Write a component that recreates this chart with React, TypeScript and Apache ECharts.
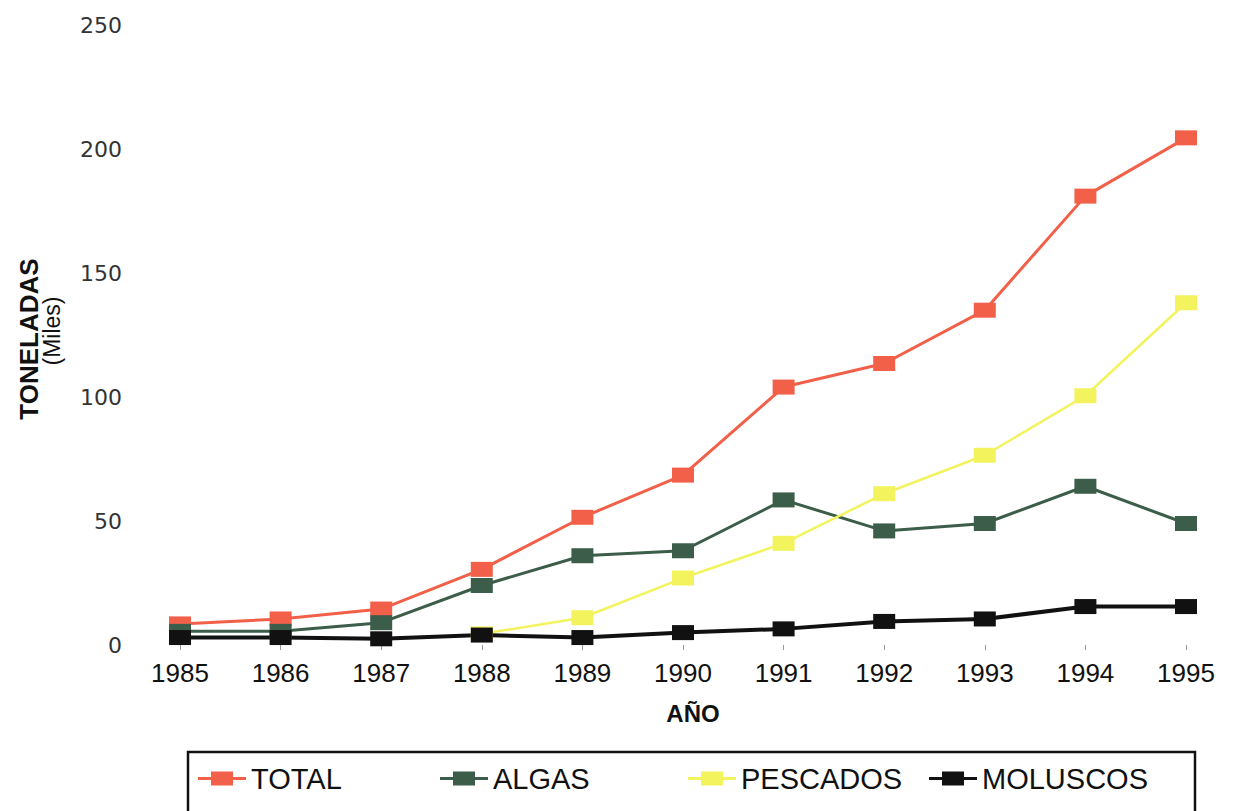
import React, { useEffect, useRef } from "react";
import * as echarts from "echarts";

const years = ["1985", "1986", "1987", "1988", "1989", "1990", "1991", "1992", "1993", "1994", "1995"];
const total = [8.5, 10.5, 14.5, 30.5, 51.5, 68.5, 104, 113.5, 135, 181, 204.5];
const algas = [5.5, 5.5, 9, 24, 36, 38, 58.5, 46, 49, 64, 49];
const pescados = [null, null, null, 4.5, 11, 27, 41, 61, 76.5, 100.5, 138];
const moluscos = [3, 3, 2.5, 4, 3, 5, 6.5, 9.5, 10.5, 15.5, 15.5];

const seriesNames = ["TOTAL", "ALGAS", "PESCADOS", "MOLUSCOS"];
const seriesColors = ["#f2604a", "#3c5d49", "#f3f35e", "#111111"];
const seriesWidths = [3, 3, 2.5, 4];
const legendLefts = [198, 440, 688, 929];
const yTicks = [0, 50, 100, 150, 200, 250];

const legendIcon = "path://M0,5.5H13V0H35V5.5H48V8.5H35V14H13V8.5H0Z";

export default function App() {
  const ref = useRef<HTMLDivElement>(null);
  useEffect(() => {
    document.body.style.margin = "0";
    const chart = echarts.init(ref.current!, null, { renderer: "svg" });
    const dataSets = [total, algas, pescados, moluscos];
    chart.setOption({
      animation: false,
      backgroundColor: "#ffffff",
      grid: { left: 180, right: 50, top: 25, bottom: 166 },
      xAxis: {
        type: "category",
        data: years,
        boundaryGap: false,
        name: "AÑO",
        nameLocation: "middle",
        nameGap: 56,
        nameTextStyle: { fontFamily: "Liberation Sans, Arial, sans-serif", fontWeight: "bold", fontSize: 24, color: "#111", padding: [0, 0, 0, 20] },
        axisLine: { show: false },
        axisTick: { show: true, length: 5, lineStyle: { color: "#999" } },
        axisLabel: { fontFamily: "Liberation Sans, Arial, sans-serif", fontSize: 26, color: "#111", margin: 15 },
        splitLine: { show: false },
      },
      yAxis: {
        type: "value",
        min: yTicks[0],
        max: yTicks[yTicks.length - 1],
        interval: 50,
        axisLine: { show: false },
        axisTick: { show: false },
        splitLine: { show: false },
        axisLabel: { fontFamily: "DejaVu Sans, sans-serif", fontSize: 22, color: "#333", margin: 58 },
      },
      legend: seriesNames.map((n, i) => ({
        data: [{ name: n, icon: legendIcon }],
        left: legendLefts[i],
        top: 764,
        padding: 0,
        itemWidth: 48,
        itemHeight: 14,
        itemGap: 5,
        textStyle: { fontFamily: "Liberation Sans Narrow, Arial Narrow, Liberation Sans, Arial, sans-serif", fontSize: 29, color: "#111" },
      })),
      graphic: [
        {
          type: "rect",
          shape: { x: 188, y: 752, width: 1007, height: 80 },
          style: { fill: "none", stroke: "#111", lineWidth: 2.5 },
          silent: true,
        },
        {
          type: "text",
          x: 29,
          y: 339,
          rotation: Math.PI / 2,
          style: {
            text: "TONELADAS",
            fontFamily: "Liberation Sans, Arial, sans-serif",
            fontWeight: "bold",
            fontSize: 26,
            fill: "#111",
            align: "center",
            verticalAlign: "middle",
          },
        },
        {
          type: "text",
          x: 52,
          y: 331,
          rotation: Math.PI / 2,
          style: {
            text: "(Miles)",
            fontFamily: "Liberation Sans, Arial, sans-serif",
            fontSize: 23,
            fill: "#111",
            align: "center",
            verticalAlign: "middle",
          },
        },
      ],
      series: seriesNames.map((n, i) => ({
        name: n,
        type: "line",
        data: dataSets[i],
        symbol: "rect",
        symbolSize: [22, 15],
        showSymbol: true,
        lineStyle: { color: seriesColors[i], width: seriesWidths[i] },
        itemStyle: { color: seriesColors[i] },
      })),
    });
    return () => chart.dispose();
  }, []);
  return <div ref={ref} style={{ width: 1236, height: 811 }} />;
}
